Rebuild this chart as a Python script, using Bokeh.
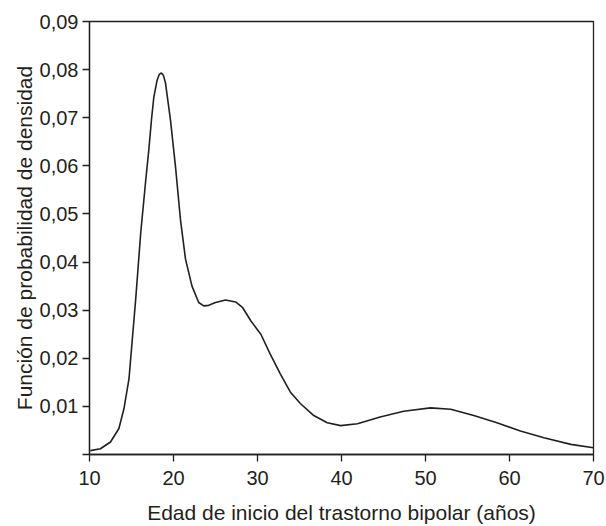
from bokeh.plotting import figure
from bokeh.models import FixedTicker, CustomJSTickFormatter
from bokeh.embed import file_html
from bokeh.resources import INLINE

# Age of onset (years) and density values
edad = [10.1, 11.3, 12.5, 13.5, 14.1, 14.7, 15.5, 16.1, 16.7, 17.06,
        17.4, 17.66, 18.05, 18.3, 18.57, 18.8, 19.05, 19.64, 20.24, 20.83, 21.43,
        22.2, 23.0, 23.6, 24.2, 25.0, 26.2, 27.4, 28.2, 29.2, 30.4, 31.5, 32.7, 33.9,
        35.1, 36.7, 38.3, 39.9, 41.9, 44.6, 47.4, 50.6, 53.0, 55.75, 58.5, 61.3,
        64.1, 67.3, 70.0]
densidad = [0.0008, 0.0012, 0.0026, 0.0054, 0.0095, 0.0157, 0.0323, 0.0461,
            0.0571, 0.0633, 0.0700, 0.0743, 0.0778, 0.0790, 0.0793, 0.0788,
            0.0772, 0.0695, 0.0598, 0.0488, 0.0406, 0.0350, 0.0316, 0.0309,
            0.0310, 0.0316, 0.0321, 0.0317, 0.0306, 0.0278, 0.0250, 0.0209, 0.0168,
            0.0130, 0.0106, 0.0081, 0.0066, 0.0060, 0.0064, 0.0078, 0.0090,
            0.0097, 0.0094, 0.0081, 0.0066, 0.0049, 0.0035, 0.0021, 0.0014]

x_ticks = [10, 20, 30, 40, 50, 60, 70]
y_ticks = [0.0, 0.01, 0.02, 0.03, 0.04, 0.05, 0.06, 0.07, 0.08, 0.09]

INK = "#231f20"
FONT = "Liberation Sans"

p = figure(width=606, height=526, x_range=(10, 70), y_range=(0, 0.09),
           output_backend="svg", toolbar_location=None,
           min_border_left=89, min_border_top=21, min_border_right=13,
           min_border_bottom=70)

p.line(edad, densidad, line_color=INK, line_width=1.6, line_join="round")

p.grid.visible = False
p.outline_line_color = INK
p.outline_line_width = 1.3
p.background_fill_color = "white"
p.border_fill_color = "white"

for ax in (p.xaxis[0], p.yaxis[0]):
    ax.axis_line_color = INK
    ax.axis_line_width = 1.3
    ax.major_tick_line_color = INK
    ax.major_tick_line_width = 1.3
    ax.major_tick_out = 7
    ax.major_tick_in = 0
    ax.minor_tick_line_color = None
    ax.major_label_text_font = FONT
    ax.major_label_text_font_size = "20px"
    ax.major_label_text_color = INK
    ax.axis_label_text_font = FONT
    ax.axis_label_text_font_size = "21px"
    ax.axis_label_text_font_style = "normal"
    ax.axis_label_text_color = INK

p.xaxis.ticker = FixedTicker(ticks=x_ticks)
p.yaxis.ticker = FixedTicker(ticks=y_ticks)
p.yaxis.formatter = CustomJSTickFormatter(
    code='return tick < 0.005 ? "" : tick.toFixed(2).replace(".", ",");')

p.xaxis.axis_label = "Edad de inicio del trastorno bipolar (años)"
p.yaxis.axis_label = "Función de probabilidad de densidad"
p.xaxis.major_label_standoff = 9
p.yaxis.major_label_standoff = 4
p.xaxis.axis_label_standoff = 13
p.yaxis.axis_label_standoff = 1

open("out.html", "w").write(file_html(p, INLINE))
